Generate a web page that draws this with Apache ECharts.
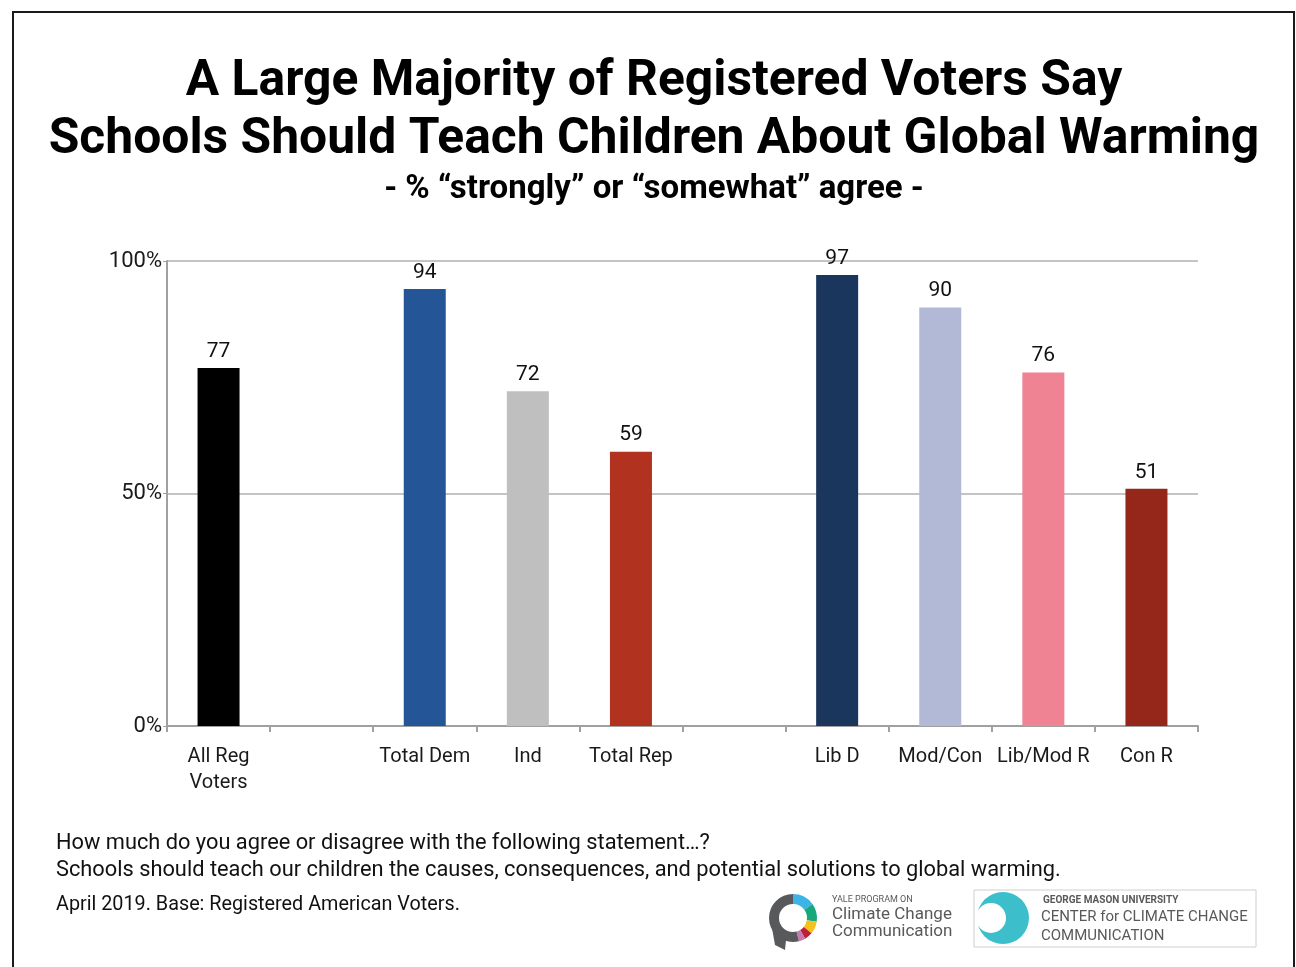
<!DOCTYPE html>
<html>
<head>
<meta charset="utf-8">
<script src="https://cdn.jsdelivr.net/npm/echarts@6/dist/echarts.min.js"></script>
<style>
html,body{margin:0;padding:0;background:#fff;}
#chart{width:1296px;height:967px;}
</style>
</head>
<body>
<div id="chart"></div>
<script>
const categories = ['All Reg\nVoters', '', 'Total Dem', 'Ind', 'Total Rep', '', 'Lib D', 'Mod/Con', 'Lib/Mod R', 'Con R'];
const values = [77, null, 94, 72, 59, null, 97, 90, 76, 51];
const yTicks = [0, 50, 100];
const titleText = 'A Large Majority of Registered Voters Say\nSchools Should Teach Children About Global Warming';
const subtitleText = '- % \u201cstrongly\u201d or \u201csomewhat\u201d agree -';
const noteLines = ['How much do you agree or disagree with the following statement\u2026?',
  'Schools should teach our children the causes, consequences, and potential solutions to global warming.'];
const sourceText = 'April 2019. Base: Registered American Voters.';

const barColors = ['#000000', '#000000', '#245697', '#bfbfbf', '#b0321f', '#000000', '#1b365c', '#b1b9d6', '#ef8393', '#95271a'];

const chart = echarts.init(document.getElementById('chart'), null, {renderer: 'canvas'});
const FONT = 'Roboto';

const option = {
  backgroundColor: '#ffffff',
  animation: false,
  grid: {left: 167, right: 98, top: 261, bottom: 241, containLabel: false},
  xAxis: {
    type: 'category',
    data: categories,
    axisLine: {show: true, lineStyle: {color: '#a0a0a0', width: 2}},
    axisTick: {show: true, length: 6, alignWithLabel: false, lineStyle: {color: '#a0a0a0', width: 2}},
    axisLabel: {
      interval: 0, margin: 18, color: '#1a1a1a', fontFamily: FONT, fontSize: 20,
      lineHeight: 26
    }
  },
  yAxis: {
    type: 'value', min: 0, max: 100, interval: 50,
    axisLine: {show: true, lineStyle: {color: '#a0a0a0', width: 2}},
    axisTick: {show: true, length: 4, lineStyle: {color: '#a0a0a0'}},
    splitLine: {show: true, lineStyle: {color: '#c4c4c4', width: 2}},
    axisLabel: {
      margin: 5, color: '#1a1a1a', fontFamily: FONT, fontSize: 22,
      formatter: function (v) { return yTicks.indexOf(v) >= 0 ? v + '%' : ''; }
    }
  },
  series: [{
    type: 'bar',
    barWidth: 42,
    data: values.map((v, i) => ({value: v, itemStyle: {color: barColors[i]}})),
    label: {
      show: true, position: 'top', distance: 6, color: '#111', fontFamily: FONT, fontSize: 21
    }
  }],
  graphic: [
    {type: 'rect', shape: {x: 13, y: 12, width: 1281, height: 1000}, style: {fill: 'none', stroke: '#1a1a1a', lineWidth: 2}, silent: true},
    {type: 'text', x: 654, y: 54, style: {text: titleText, fill: '#000', font: 'bold 49.8px Roboto', textAlign: 'center', lineHeight: 58}},
    {type: 'text', x: 654, y: 173, style: {text: subtitleText, fill: '#000', font: 'bold 33px Roboto', textAlign: 'center'}},
    {type: 'text', x: 56, y: 830, style: {text: noteLines.join('\n'), fill: '#111', font: '21.8px Roboto', lineHeight: 27}},
    {type: 'text', x: 56, y: 895, style: {text: sourceText, fill: '#111', font: '19.8px Roboto'}},
    // Yale logo
    {type: 'group', children: [
      {type: 'sector', shape: {cx: 793, cy: 918, r0: 14, r: 24, startAngle: Math.PI * 0.5, endAngle: Math.PI * 1.5, clockwise: true}, style: {fill: '#58595b'}},
      {type: 'polygon', shape: {points: [[772, 928], [786, 940], [785, 950], [775, 945]]}, style: {fill: '#58595b'}},
      {type: 'sector', shape: {cx: 793, cy: 918, r0: 14, r: 24, startAngle: -Math.PI * 0.5, endAngle: -Math.PI * 0.2}, style: {fill: '#3cb4e5'}},
      {type: 'sector', shape: {cx: 793, cy: 918, r0: 14, r: 24, startAngle: -Math.PI * 0.2, endAngle: Math.PI * 0.05}, style: {fill: '#17a97b'}},
      {type: 'sector', shape: {cx: 793, cy: 918, r0: 14, r: 24, startAngle: Math.PI * 0.05, endAngle: Math.PI * 0.22}, style: {fill: '#f6c11c'}},
      {type: 'sector', shape: {cx: 793, cy: 918, r0: 14, r: 24, startAngle: Math.PI * 0.22, endAngle: Math.PI * 0.33}, style: {fill: '#be1f3a'}},
      {type: 'sector', shape: {cx: 793, cy: 918, r0: 14, r: 24, startAngle: Math.PI * 0.33, endAngle: Math.PI * 0.42}, style: {fill: '#c57ab0'}},
      {type: 'sector', shape: {cx: 793, cy: 918, r0: 14, r: 24, startAngle: Math.PI * 0.42, endAngle: Math.PI * 0.5}, style: {fill: '#58595b'}},
      {type: 'text', x: 832, y: 895, style: {text: 'YALE PROGRAM ON', fill: '#58595b', font: '9px Roboto'}},
      {type: 'text', x: 832, y: 906, style: {text: 'Climate Change\nCommunication', fill: '#58595b', font: '17px Roboto', lineHeight: 17}}
    ]},
    // GMU logo
    {type: 'group', children: [
      {type: 'rect', shape: {x: 974, y: 890, width: 282, height: 57}, style: {fill: '#fff', stroke: '#cfcfcf', lineWidth: 1}},
      {type: 'circle', shape: {cx: 1003, cy: 918, r: 26}, style: {fill: '#3cbfca'}},
      {type: 'circle', shape: {cx: 991, cy: 918, r: 15}, style: {fill: '#ffffff'}},
      {type: 'text', x: 1043, y: 895, style: {text: 'GEORGE MASON UNIVERSITY', fill: '#58595b', font: 'bold 10px Roboto'}},
      {type: 'text', x: 1041, y: 908, style: {text: 'CENTER for CLIMATE CHANGE\nCOMMUNICATION', fill: '#58595b', font: '15px Roboto', lineHeight: 19}}
    ]}
  ]
};
chart.setOption(option);
</script>
</body>
</html>
